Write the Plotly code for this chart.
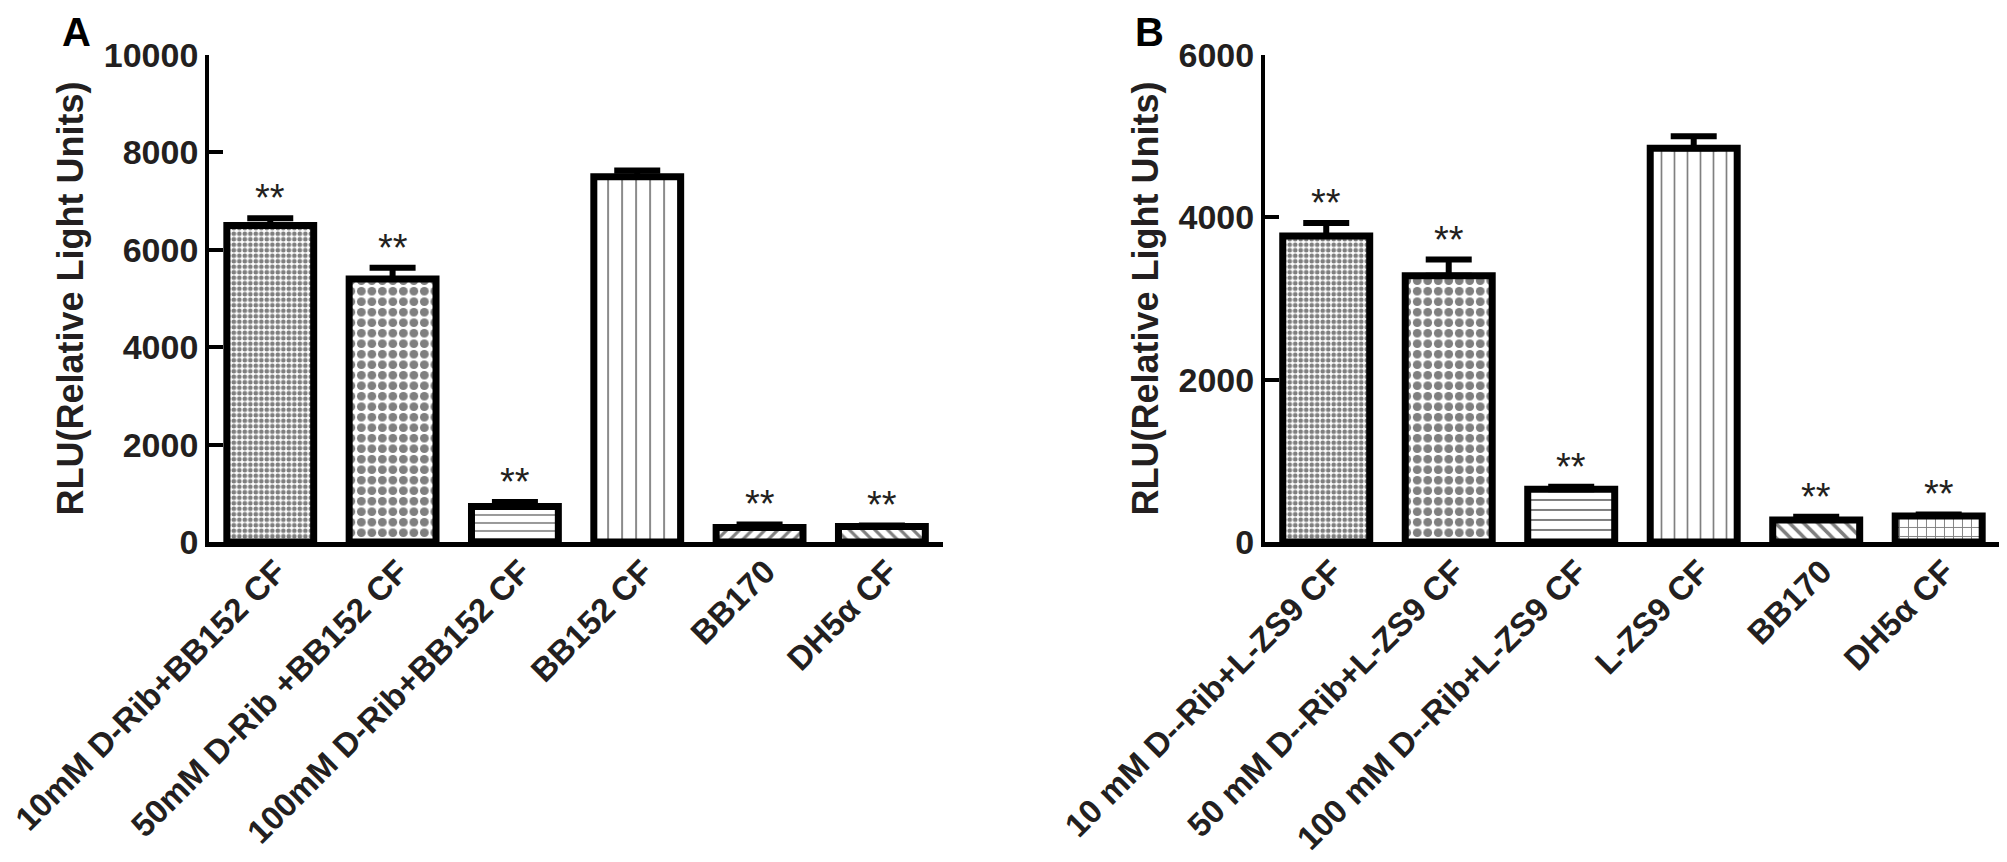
import plotly.graph_objs as go

# Panel A: BB152 cell-free supernatant
a_labels = ["10mM D-Rib+BB152 CF", "50mM D-Rib +BB152 CF", "100mM D-Rib+BB152 CF",
            "BB152 CF", "BB170", "DH5α CF"]
a_means = [6500, 5400, 730, 7500, 300, 320]
a_err = [150, 230, 90, 130, 60, 20]
a_sig = ["**", "**", "**", "", "**", "**"]

# Panel B: L-ZS9 cell-free supernatant
b_labels = ["10 mM D--Rib+L-ZS9 CF", "50 mM D--Rib+L-ZS9 CF", "100 mM D--Rib+L-ZS9 CF",
            "L-ZS9 CF", "BB170", "DH5α CF"]
b_means = [3770, 3280, 650, 4850, 270, 320]
b_err = [160, 200, 30, 150, 40, 20]
b_sig = ["**", "**", "**", "", "**", "**"]

a_ticks = [0, 2000, 4000, 6000, 8000, 10000]
b_ticks = [0, 2000, 4000, 6000]
y_title = "RLU(Relative Light Units)"
FONT = "Arial, Liberation Sans, sans-serif"

# fill pattern per bar: (shape, tile size px, solidity)
a_fill = [(".", 5.5, 0.55), (".", 10.5, 0.55), ("-", 8, 0.2),
          ("|", 14, 0.13), ("/", 9, 0.35), ("\\", 9, 0.35)]
b_fill = [(".", 5.5, 0.55), (".", 10.5, 0.55), ("-", 10, 0.2),
          ("|", 13, 0.13), ("\\", 10, 0.35), ("+", 9, 0.2)]


def bar_traces(labels, means, err, fills, xa, ya):
    out = []
    for lab, m, e, (shape, size, solid) in zip(labels, means, err, fills):
        out.append(go.Bar(
            x=[lab], y=[m], xaxis=xa, yaxis=ya, width=0.71,
            marker=dict(color="white", line=dict(color="black", width=7),
                        pattern=dict(shape=shape, size=size, solidity=solid,
                                     fgcolor="black", bgcolor="white")),
            error_y=dict(type="data", array=[e], arrayminus=[0], symmetric=False,
                         color="black", thickness=6, width=23),
            showlegend=False))
    return out


fig = go.Figure()
fig.add_traces(bar_traces(a_labels, a_means, a_err, a_fill, "x", "y"))
fig.add_traces(bar_traces(b_labels, b_means, b_err, b_fill, "x2", "y2"))

xstyle = dict(showline=True, linecolor="black", linewidth=5, showgrid=False, zeroline=False,
              ticks="", tickangle=-45, range=[-0.5, 5.5], automargin=False,
              ticklabelshift=6, ticklabelstandoff=-8,
              tickfont=dict(family=FONT, size=33, color="#231f20", weight="bold"))


def ystyle(standoff):
    return dict(showline=True, linecolor="black", linewidth=4, showgrid=False, zeroline=False,
                ticks="inside", ticklen=14, tickwidth=4, tickcolor="black", automargin=False,
                tickformat="d",
                tickfont=dict(family=FONT, size=34, color="#231f20", weight="bold"),
                title=dict(text=y_title, standoff=standoff,
                           font=dict(family=FONT, size=36, color="#231f20", weight="bold")))


annots = []
for xr, yr, labels, means, err, sig in [("x", "y", a_labels, a_means, a_err, a_sig),
                                         ("x2", "y2", b_labels, b_means, b_err, b_sig)]:
    for lab, m, e, s in zip(labels, means, err, sig):
        if s:
            annots.append(dict(x=lab, y=m + e, xref=xr, yref=yr, text=s, showarrow=False,
                               yanchor="bottom", yshift=-3,
                               font=dict(family=FONT, size=38, color="#231f20")))
for letter, px in [("A", 0.034), ("B", 0.569)]:
    annots.append(dict(x=px, y=1.0, xref="paper", yref="paper", text=letter, showarrow=False,
                       xanchor="center", yanchor="top",
                       font=dict(family=FONT, size=40, color="black", weight="bold")))

fig.update_layout(
    width=2007, height=862,
    margin=dict(l=0, r=0, t=0, b=0),
    paper_bgcolor="white", plot_bgcolor="white",
    barmode="overlay",
    xaxis=dict(domain=[0.1002, 0.4659], anchor="y", categoryorder="array",
               categoryarray=a_labels, **xstyle),
    yaxis=dict(domain=[0.3805, 0.9455], anchor="x", range=[0, 10000],
               tickvals=a_ticks, **ystyle(10)),
    xaxis2=dict(domain=[0.6263, 0.9925], anchor="y2", categoryorder="array",
                categoryarray=b_labels, **xstyle),
    yaxis2=dict(domain=[0.3805, 0.9455], anchor="x2", range=[0, 6000],
                tickvals=b_ticks, **ystyle(10)),
    annotations=annots,
)

fig.write_html("out.html")
